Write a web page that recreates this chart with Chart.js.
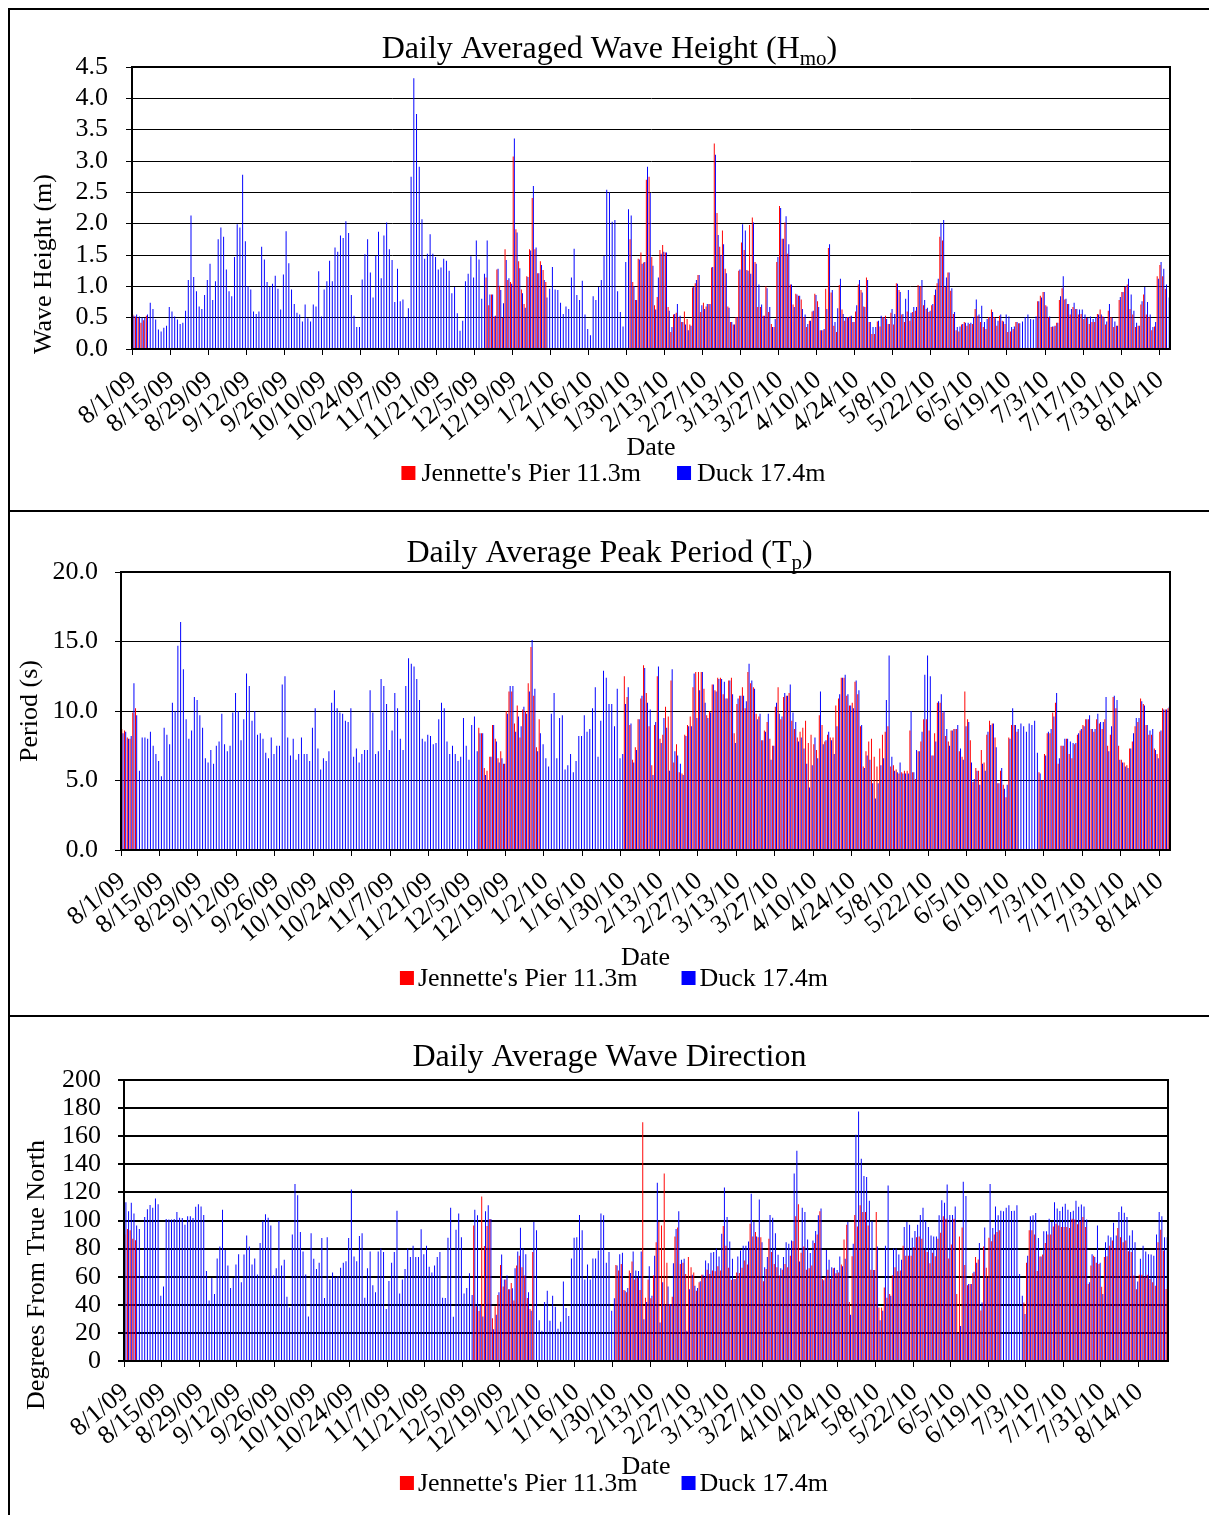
<!DOCTYPE html>
<html>
<head>
<meta charset="utf-8">
<script src="https://cdn.jsdelivr.net/npm/chart.js@4.4.1/dist/chart.umd.min.js"></script>
<style>
  html, body { margin: 0; padding: 0; background: #fff; }
  #frame { position: absolute; left: 8px; top: 8px; width: 1212px; border-left: 2px solid #000; }
  .panel { border-top: 2px solid #000; }
  canvas { display: block; }
</style>
</head>
<body>
<div id="frame">
  <div class="panel"><canvas id="heightChart" width="1199" height="500"></canvas></div>
  <div class="panel"><canvas id="periodChart" width="1199" height="503"></canvas></div>
  <div class="panel"><canvas id="directionChart" width="1199" height="498"></canvas></div>
</div>
<script>
// Biweekly date labels shown on every x axis
const tickLabels = ['8/1/09','8/15/09','8/29/09','9/12/09','9/26/09','10/10/09','10/24/09','11/7/09',
  '11/21/09','12/5/09','12/19/09','1/2/10','1/16/10','1/30/10','2/13/10','2/27/10','3/13/10','3/27/10',
  '4/10/10','4/24/10','5/8/10','5/22/10','6/5/10','6/19/10','7/3/10','7/17/10','7/31/10','8/14/10'];

const seriesNames = ["Jennette's Pier 11.3m", 'Duck 17.4m'];

// Daily averaged significant wave height Hmo (m)
const heightJP = [
0.55,0.52,0.50,0.42,0.46,0.53,null,null,null,null,
null,null,null,null,null,null,null,null,null,null,
null,null,null,null,null,null,null,null,null,null,
null,null,null,null,null,null,null,null,null,null,
null,null,null,null,null,null,null,null,null,null,
null,null,null,null,null,null,null,null,null,null,
null,null,null,null,null,null,null,null,null,null,
null,null,null,null,null,null,null,null,null,null,
null,null,null,null,null,null,null,null,null,null,
null,null,null,null,null,null,null,null,null,null,
null,null,null,null,null,null,null,null,null,null,
null,null,null,null,null,null,null,null,null,null,
null,null,null,null,null,null,null,null,null,null,
1.14,0.70,0.87,0.52,1.27,1.01,0.50,1.59,1.10,1.07,
3.07,1.91,1.40,0.95,0.72,1.16,1.59,2.41,1.59,1.21,
1.40,1.26,1.07,null,null,null,null,null,null,null,
null,null,null,null,null,null,null,null,null,null,
null,null,null,null,null,null,null,null,null,null,
null,null,null,1.75,1.07,0.78,1.44,1.54,1.38,2.70,
2.75,1.47,0.70,0.83,1.58,1.66,1.54,0.67,0.27,0.55,
0.58,0.51,0.43,0.60,0.48,0.39,0.98,1.05,1.18,0.59,
0.74,0.68,0.72,1.30,3.28,2.17,1.63,1.89,1.28,0.68,
0.43,0.39,0.51,1.25,1.70,1.58,1.26,1.98,2.10,1.39,
0.67,0.67,0.53,1.00,0.59,0.40,0.35,1.39,2.28,1.76,
2.02,1.52,1.03,0.71,0.88,0.85,0.79,0.51,0.35,0.45,
0.60,0.88,0.76,0.30,0.30,0.96,1.61,0.90,0.37,0.27,
1.02,0.63,0.45,0.51,0.52,0.43,0.60,1.03,0.94,0.68,
1.14,0.43,0.24,0.24,0.44,0.36,0.51,0.53,0.40,0.58,
0.39,1.05,0.94,0.55,0.43,0.60,0.45,0.59,0.61,1.02,
1.00,0.70,0.64,0.59,0.70,0.86,1.05,1.79,1.73,0.99,
1.22,0.93,0.56,0.30,0.28,0.39,0.43,0.37,0.40,0.40,
0.64,0.53,0.43,0.35,0.32,0.51,0.63,0.51,0.37,0.53,
0.45,0.40,0.27,0.28,0.32,0.43,0.41,null,null,null,
null,null,null,0.76,0.85,0.91,0.70,0.51,0.35,0.36,
0.42,0.78,0.97,0.79,0.72,0.55,0.67,0.64,0.55,0.56,
0.48,0.50,0.40,0.43,0.43,0.56,0.63,0.52,0.39,0.61,
0.51,0.35,0.37,0.78,0.91,0.99,1.03,0.64,0.55,0.35,
0.37,0.71,0.87,0.55,0.51,0.30,0.36,1.16,1.34,1.16,
0.96,null
];
const heightDuck = [
0.53,0.55,0.52,0.50,0.50,0.55,0.74,0.64,0.47,0.31,
0.28,0.34,0.37,0.67,0.60,0.52,0.47,0.40,0.42,0.61,
1.10,2.13,1.15,0.92,0.68,0.64,0.86,1.10,1.36,0.78,
1.08,1.75,1.94,1.79,1.27,0.92,0.84,1.47,1.99,1.94,
2.78,1.72,1.00,0.95,0.60,0.56,0.60,1.63,1.43,1.07,
0.99,1.04,1.17,0.96,0.63,1.19,1.88,1.37,0.95,0.72,
0.58,0.55,0.44,0.71,0.49,0.44,0.71,0.68,1.24,0.52,
0.95,1.08,1.41,1.08,1.62,1.55,1.81,1.77,2.04,1.85,
0.86,0.53,0.35,0.35,1.11,1.51,1.75,1.22,0.82,1.49,
1.87,1.13,1.81,2.02,1.59,1.42,0.75,1.28,0.76,0.79,
0.51,0.65,2.75,4.32,3.75,2.91,2.07,1.44,1.52,1.83,
1.52,1.47,1.27,1.30,1.44,1.41,1.25,0.89,0.99,0.57,
0.29,0.45,1.08,1.20,1.48,1.14,1.73,1.43,0.80,1.20,
1.73,0.87,0.87,0.53,1.28,0.94,0.73,1.42,1.13,1.04,
3.36,1.86,1.29,0.89,0.66,1.15,1.57,2.60,1.62,1.21,
1.34,1.10,0.82,0.96,1.31,0.95,0.94,0.74,0.56,0.68,
0.64,1.14,1.60,0.86,0.78,1.09,0.55,0.32,0.22,0.84,
0.78,0.99,1.10,1.49,2.54,2.50,2.03,2.06,0.92,0.59,
0.36,1.39,2.23,2.13,1.00,0.78,1.43,1.36,1.39,2.91,
2.49,1.33,0.63,1.14,1.52,1.55,1.54,0.61,0.35,0.56,
0.72,0.53,0.43,0.39,0.30,0.37,0.99,1.10,1.18,0.70,
0.64,0.72,0.72,1.31,3.10,1.82,1.50,1.67,1.21,0.66,
0.43,0.39,0.51,1.27,1.99,1.89,1.25,1.20,2.02,1.36,
1.03,0.71,0.53,0.97,0.67,0.35,0.48,1.47,2.25,1.76,
2.12,1.67,1.03,0.67,0.87,0.85,0.64,0.55,0.40,0.45,
0.61,0.86,0.67,0.30,0.32,0.64,1.67,0.94,0.43,0.65,
1.12,0.56,0.51,0.51,0.53,0.43,0.70,1.10,0.90,0.67,
1.10,0.43,0.35,0.35,0.45,0.53,0.51,0.48,0.40,0.64,
0.56,1.04,0.91,0.56,0.80,0.94,0.58,0.67,0.67,1.00,
1.10,0.78,0.66,0.61,0.72,0.95,1.12,2.01,2.06,1.14,
1.22,0.97,0.59,0.35,0.36,0.40,0.42,0.42,0.42,0.51,
0.79,0.55,0.69,0.43,0.48,0.51,0.59,0.49,0.45,0.55,
0.44,0.55,0.52,0.35,0.36,0.43,0.41,0.44,0.51,0.55,
0.48,0.47,0.52,0.76,0.82,0.91,0.68,0.52,0.36,0.37,
0.42,0.84,1.16,0.80,0.72,0.64,0.74,0.64,0.63,0.63,
0.55,0.50,0.52,0.48,0.51,0.55,0.55,0.51,0.44,0.72,
0.50,0.44,0.37,0.83,0.91,1.00,1.12,0.87,0.61,0.42,
0.37,0.76,0.99,0.75,0.55,0.35,0.43,1.12,1.39,1.28,
1.03,0.82
];

// Daily average peak period Tp (s)
const periodJP = [
8.7,8.6,8.1,8.0,9.9,10.2,null,null,null,null,
null,null,null,null,null,null,null,null,null,null,
null,null,null,null,null,null,null,null,null,null,
null,null,null,null,null,null,null,null,null,null,
null,null,null,null,null,null,null,null,null,null,
null,null,null,null,null,null,null,null,null,null,
null,null,null,null,null,null,null,null,null,null,
null,null,null,null,null,null,null,null,null,null,
null,null,null,null,null,null,null,null,null,null,
null,null,null,null,null,null,null,null,null,null,
null,null,null,null,null,null,null,null,null,null,
null,null,null,null,null,null,null,null,null,null,
null,null,null,null,null,null,null,null,null,null,
8.8,8.4,5.9,5.7,6.7,9.0,8.0,6.6,7.1,6.2,
10.0,11.4,11.4,9.1,10.4,8.1,10.1,10.0,12.0,14.6,
11.1,7.4,9.4,null,null,null,null,null,null,null,
null,null,null,null,null,null,null,null,null,null,
null,null,null,null,null,null,null,null,null,null,
null,null,null,12.5,11.0,9.0,6.5,7.4,9.4,10.9,
13.3,11.3,8.9,6.1,9.0,12.5,8.0,8.3,10.3,9.6,
12.2,6.3,7.6,5.6,5.5,8.3,9.0,9.6,11.7,12.8,
12.8,12.8,11.6,9.7,10.0,11.9,11.5,12.4,12.4,11.2,
10.9,12.2,12.4,8.4,10.5,11.1,11.7,10.2,12.8,12.0,
11.7,9.8,9.6,7.9,8.6,9.2,8.0,7.5,10.3,11.7,
9.4,11.0,11.1,11.3,9.3,8.7,8.1,8.5,8.8,9.3,
7.7,8.3,7.6,7.2,9.7,9.0,7.8,8.3,8.1,8.1,
10.4,10.9,12.4,12.4,11.1,10.4,10.6,12.1,11.2,8.9,
6.0,7.1,7.8,8.0,6.7,6.0,7.3,8.3,8.5,8.9,
6.0,6.1,5.8,5.5,5.6,5.7,5.7,8.6,5.6,5.1,
7.1,7.8,9.4,9.4,8.6,6.8,8.4,10.6,10.6,9.9,
8.2,7.8,8.6,8.7,8.7,7.1,6.7,11.4,9.4,7.9,
4.9,5.9,5.7,7.2,6.3,8.3,9.3,9.1,8.1,4.8,
5.7,4.7,3.8,8.1,9.0,9.0,8.5,null,null,null,
null,null,null,null,5.6,5.0,6.9,8.4,8.4,9.9,
10.6,6.2,7.5,7.5,8.0,6.9,6.6,7.6,8.3,8.6,
9.0,9.4,9.4,8.7,8.5,9.4,9.1,8.7,9.4,7.5,
8.3,11.0,10.2,7.5,6.5,6.3,6.1,7.3,7.8,8.9,
9.2,10.9,10.5,9.0,8.3,8.3,7.3,6.9,8.5,10.2,
10.1,10.2
];
const periodDuck = [
8.4,8.5,8.0,8.2,12.0,9.7,5.7,8.1,8.1,8.0,
8.5,7.5,6.9,6.4,5.3,8.8,8.3,7.6,10.6,10.0,
14.7,16.4,13.0,9.4,8.0,8.6,11.0,10.8,9.7,8.8,
6.6,6.3,7.2,6.2,7.5,7.8,9.8,7.6,7.1,7.5,
9.9,11.3,10.0,7.9,9.4,12.7,11.8,9.3,10.0,8.3,
8.4,8.0,7.0,6.6,8.1,6.9,7.5,7.5,11.9,12.5,
8.1,6.8,8.0,6.5,6.9,8.1,6.9,6.9,6.4,8.8,
10.2,7.3,5.8,6.6,6.4,7.1,10.6,11.5,10.2,9.9,
9.8,9.3,9.2,10.2,6.7,7.3,6.3,6.9,7.2,7.2,
11.5,9.9,6.9,7.1,12.3,11.8,10.5,7.2,8.6,11.3,
10.2,8.0,7.2,11.8,13.8,13.4,13.2,12.3,10.8,8.0,
7.8,8.3,8.2,7.6,7.7,9.4,10.6,10.2,7.8,6.9,
7.5,6.9,6.4,6.7,9.5,7.5,6.5,9.0,9.6,7.1,
8.4,8.4,5.4,5.0,6.7,9.0,7.8,6.3,6.6,6.2,
9.8,11.8,11.8,8.5,9.6,8.9,10.3,9.8,11.4,15.1,
11.6,7.1,8.4,7.6,6.6,6.0,9.8,11.3,6.6,9.5,
9.7,5.8,6.1,6.9,5.6,6.4,8.2,8.2,9.7,8.5,
8.7,10.2,11.7,6.7,9.3,12.9,12.4,10.5,10.5,8.9,
11.6,6.6,6.9,10.5,11.7,9.1,6.3,7.2,9.4,11.1,
13.1,10.6,10.1,5.4,9.2,13.2,7.7,9.5,8.8,5.7,
13.0,7.1,6.8,6.2,5.4,8.2,8.9,8.9,12.7,9.5,
11.5,12.8,10.6,9.5,9.9,11.9,11.4,12.3,12.3,12.1,
10.9,12.2,11.2,7.7,10.9,11.1,11.1,10.7,13.4,12.2,
11.6,9.4,9.8,7.9,8.5,9.8,6.5,7.5,10.6,9.8,
9.6,11.3,11.1,11.9,9.9,9.2,7.8,8.1,7.3,6.2,
4.5,6.1,8.1,6.6,11.4,7.6,7.9,8.5,7.9,6.9,
8.9,11.2,12.4,12.6,11.2,10.4,10.2,12.2,11.5,9.0,
5.9,6.8,6.5,4.8,3.7,4.8,6.1,6.6,10.8,14.0,
6.7,5.7,5.6,6.3,5.5,5.5,5.5,10.0,5.6,7.2,
7.1,8.5,12.6,14.0,12.5,6.8,7.8,10.7,11.2,10.0,
8.7,7.5,8.6,8.7,9.0,7.3,6.5,8.9,9.2,6.3,
5.1,5.7,4.7,6.2,5.7,8.5,9.0,9.1,7.4,4.8,
5.9,4.4,4.7,8.0,10.2,9.0,8.7,9.1,8.9,8.5,
9.1,9.0,9.3,7.0,5.5,5.0,6.8,8.5,8.7,9.6,
11.3,6.6,7.5,8.0,8.0,7.8,7.7,7.7,8.4,8.7,
8.9,9.4,9.7,8.7,8.7,9.8,9.2,9.2,11.0,7.1,
8.9,11.1,10.8,6.5,6.3,6.0,5.9,7.3,8.4,9.5,
9.5,10.7,10.4,9.0,8.6,8.7,7.2,6.6,8.6,10.1,
10.1,10.3
];

// Daily average wave direction (degrees from true north)
const directionJP = [
90,94,93,87,86,null,null,null,null,null,
null,null,null,null,null,null,null,null,null,null,
null,null,null,null,null,null,null,null,null,null,
null,null,null,null,null,null,null,null,null,null,
null,null,null,null,null,null,null,null,null,null,
null,null,null,null,null,null,null,null,null,null,
null,null,null,null,null,null,null,null,null,null,
null,null,null,null,null,null,null,null,null,null,
null,null,null,null,null,null,null,null,null,null,
null,null,null,null,null,null,null,null,null,null,
null,null,null,null,null,null,null,null,null,null,
null,null,null,null,null,null,null,null,null,null,
null,null,null,null,null,null,null,null,null,null,
96.5,39,35.5,117,81.8,96,101,30.5,39,47,
68.4,53,58,51,55.5,43,68,75,66.7,60.8,
44.8,37,77.5,null,null,null,null,null,null,null,
null,null,null,null,null,null,null,null,null,null,
null,null,null,null,null,null,null,null,null,null,
null,null,null,68.4,64.4,69,50.5,49,64.4,70.8,
58,59,50.5,170,45,58,44.6,60.8,84.6,99,
96.5,133.5,70,40.5,45.8,88.7,95,69,70,62,
74,66.7,63,50,56,61.3,59.6,65,62,64.4,
63.9,67.5,64.4,96,82,66.3,57.7,58.4,63,62.7,
66.3,71.5,68.7,97.7,88.7,91.8,88,88,56.7,65.5,
87,77.5,69,66.7,60.8,65,69,66.7,75,85.3,
103,111.5,77,81.5,65,66,68,84,90,106.5,
58.4,60,65,58.4,66,62.5,63,68.7,86.5,97,
42,74.6,104,95.8,110.8,106,106,96.5,65,64.8,
106,38,38,52.4,45,47.7,61,66.7,63.9,64.4,
82,75,75,75,81,88,88.7,87,79,77.5,
69.6,77,74.6,87,91.3,103,101.3,73,83,101.3,
47.7,88.7,95,68.4,54,54.8,62.5,74,72.2,36,
81.5,66.3,87.7,85.3,90,91.8,93,null,null,null,
null,null,null,null,null,41.7,70,93,93,90,
64,74.4,75.8,84,90,90,95.8,97.7,96.5,95.3,
95.3,95.3,94.6,101.3,100.8,97.3,99.4,102.5,95.3,54.8,
68,75,70,69,52.9,74,74.6,82,85.8,80,
94.6,88,84.6,85.8,78.2,77.5,60.8,51,61.3,61.3,
60,61.3,58.4,56,53.6,84.6,93.4,78.7,51.3
];
const directionDuck = [
113,106.5,112.7,105,96.5,94,59,102.5,108,111,
109,115.6,111.5,46.5,53,101,100.8,100.8,101,106,
102,101.8,97,103,103,101.8,109.7,111.5,110,104,
64,43,59,47.7,73,81.5,107.7,79,68,52,
59,68.7,76,56,75.8,89.4,81.5,68.7,73,61.5,
84,99.6,104.4,102,96.5,60.8,66,99.6,68,72,
45.8,38,90,126,118,91.8,78,61.5,31.7,91,
72.7,65.5,70,87.5,44.8,88,58,63,59.6,60.3,
66.3,70,71,87.5,122,74.4,71,89,91,45,
66,78,54,48.9,78,80,77.5,37,57,70,
77.5,107,48,58,65.5,80,74,82,74,74,
93.7,76,82,67,63,68,74,77.5,45,44.8,
87.7,109,31.5,93.4,105,88,48,52,62.5,47,
107.7,103.7,40,31.7,106.5,110.8,101,22.6,33,49,
75.8,58,60.8,51,51.7,66,78,94.9,80,76,
48.9,35.8,99,93,29,21.5,42,50,28.6,46.5,
38.6,23,27.9,56.5,37.7,32,73,87.7,88,104,
93,58,68.7,58,73,73,78.7,105,103.7,70,
77.5,35.8,44.6,68,76,77,50,52,62.7,78,
64.4,64,78,29.8,42,67.5,46.5,75,126.8,27.4,
56,40,53,40.5,69.6,94,106.5,72,72.7,21.5,
51,61.3,53.6,52,56.7,61.3,71.5,69.6,77,77.5,
80,74.4,90.6,123.5,102.5,85,72.7,58.4,74.4,78.7,
82,82,85,119,99,88.7,115,84.6,66.7,74,
104,102,91,75.6,66,74,84.6,83.4,85.8,133.5,
149.7,70.8,109,106,86.5,76.8,85.8,92.5,103.7,108.5,
57.4,79,72,66.7,66.3,64.8,74.4,67.5,72.7,99,
32.9,83.4,161,177.6,144,131.6,131,114,99.4,64.8,
81.5,29,35.8,82,125,46.5,80,80,75.8,72,
95.3,99,97,87.7,92.5,97,104,109,99.6,95.3,
89.4,88.7,88.7,103.7,114.4,112.7,125.6,104,104,110,
20,25,127.5,117.5,54.8,54.8,63.6,70,84,41.7,
95,59,126,94.6,110,103.7,107,106.5,109,110.8,
106.8,107,110.8,62,46.5,33.4,75,103,103.7,105.4,
87.5,74.4,92.3,92.3,101.3,99,113,108.5,106.8,109.7,
112,107.7,106,107,114,109.7,111.3,110,100.8,56,
76,74,96.5,70,47.7,84.6,89.4,88,98.4,89.4,
106,110,105.6,102.5,89.4,93,84.6,56.5,72.7,82,
78,76,75.8,75,90,106,103,88,88
];

// One category per day, starting 8/1/09
function dayLabels(count) {
  const out = [];
  const d = new Date(2009, 7, 1);
  for (let i = 0; i < count; i++) {
    out.push((d.getMonth() + 1) + '/' + d.getDate() + '/' + String(d.getFullYear()).slice(2));
    d.setDate(d.getDate() + 1);
  }
  return out;
}

const serif = "'Liberation Serif', 'Times New Roman', serif";
Chart.defaults.font.family = serif;
Chart.defaults.font.size = 26;
Chart.defaults.color = '#000';

// Panel title (with subscript), rotated y-axis title, plot frame and legend
const panelText = {
  id: 'panelText',
  afterDraw(chart, args, opts) {
    const ctx = chart.ctx;
    const a = chart.chartArea;
    ctx.save();
    ctx.strokeStyle = '#000';
    ctx.lineWidth = 2;
    ctx.strokeRect(a.left, a.top, a.right - a.left, a.bottom - a.top);

    // title
    ctx.fillStyle = '#000';
    ctx.textAlign = 'left';
    ctx.textBaseline = 'alphabetic';
    let total = 0;
    const parts = opts.title.map(p => {
      ctx.font = (p.sub ? '21px ' : '32px ') + serif;
      const w = ctx.measureText(p.text).width;
      total += w;
      return { text: p.text, sub: p.sub, w };
    });
    let x = chart.width / 2 - total / 2;
    parts.forEach(p => {
      ctx.font = (p.sub ? '21px ' : '32px ') + serif;
      ctx.fillText(p.text, x, opts.titleBaseline + (p.sub ? 7 : 0));
      x += p.w;
    });

    // legend
    const lg = opts.legend;
    ctx.font = '26px ' + serif;
    ctx.textBaseline = 'middle';
    const items = chart.data.datasets.map(ds => ({
      text: ds.label, color: ds.backgroundColor, w: ctx.measureText(ds.label).width
    }));
    let totalW = 0;
    items.forEach((it, i) => { totalW += lg.box + lg.boxGap + it.w + (i ? lg.itemGap : 0); });
    let lx = lg.cx - totalW / 2;
    items.forEach((it, i) => {
      if (i) lx += lg.itemGap;
      ctx.fillStyle = it.color;
      ctx.fillRect(lx, lg.y - lg.box / 2, lg.box, lg.box);
      lx += lg.box + lg.boxGap;
      ctx.fillStyle = '#000';
      ctx.fillText(it.text, lx, lg.y + 1);
      lx += it.w;
    });

    // y-axis title
    ctx.translate(opts.yTitleX, opts.yTitleY);
    ctx.rotate(-Math.PI / 2);
    ctx.textAlign = 'center';
    ctx.textBaseline = 'middle';
    ctx.fillText(opts.yTitle, 0, 0);
    ctx.restore();
  }
};

function buildPanel(id, cfg) {
  const labels = dayLabels(cfg.duck.length);
  return new Chart(document.getElementById(id), {
    type: 'bar',
    data: {
      labels,
      datasets: [
        { label: seriesNames[0], data: cfg.jp, backgroundColor: '#ff0000', borderWidth: 0,
          barPercentage: 0.85, categoryPercentage: 0.85 },
        { label: seriesNames[1], data: cfg.duck, backgroundColor: '#0000ff', borderWidth: 0,
          barPercentage: 0.85, categoryPercentage: 0.85 }
      ]
    },
    options: {
      responsive: false,
      animation: false,
      devicePixelRatio: 1,
      layout: { padding: { top: cfg.top, right: 0, bottom: 0, left: 0 } },
      plugins: {
        legend: { display: false },
        tooltip: { enabled: false },
        title: { display: false },
        panelText: {
          title: cfg.title, titleBaseline: cfg.titleBaseline,
          yTitle: cfg.yTitle, yTitleX: cfg.yTitleX, yTitleY: cfg.yTitleY,
          legend: cfg.legend
        }
      },
      scales: {
        x: {
          grid: {
            drawOnChartArea: false, drawTicks: true, tickLength: 6, lineWidth: 1,
            color: c => (c.tick && c.tick.label) ? '#000' : 'rgba(0,0,0,0)'
          },
          border: { display: true, color: '#000', width: 2 },
          ticks: {
            autoSkip: false, minRotation: cfg.rot, maxRotation: cfg.rot, padding: 10, color: '#000',
            font: { size: 26 },
            callback: function (v) {
              const l = this.getLabelForValue(v);
              return tickLabels.includes(l) ? l : '';
            }
          },
          title: { display: true, text: 'Date', color: '#000', font: { size: 26 },
                   padding: { top: 0, bottom: cfg.datePad } },
          afterFit: s => { s.height = cfg.xHeight; }
        },
        y: {
          min: 0, max: cfg.max,
          ticks: { stepSize: cfg.step, autoSkip: false, padding: cfg.tickPad, color: '#000',
                   font: { size: 26 }, callback: v => v.toFixed(cfg.dec) },
          grid: { color: '#000', lineWidth: cfg.gridWidth, drawTicks: true, tickLength: 6 },
          border: { display: true, color: '#000', width: 2 },
          afterFit: s => { s.width = cfg.yWidth; }
        },
        yRight: {
          position: 'right', display: true,
          grid: { display: false }, border: { display: false }, ticks: { display: false },
          afterFit: s => { s.width = cfg.right; }
        }
      }
    },
    plugins: [panelText]
  });
}

buildPanel('heightChart', {
  jp: heightJP, duck: heightDuck, max: 4.5, step: 0.5, dec: 1,
  title: [{ text: 'Daily Averaged Wave Height (H' }, { text: 'mo', sub: true }, { text: ')' }],
  titleBaseline: 48, yTitle: 'Wave Height (m)', yTitleX: 34, yTitleY: 254,
  top: 57, right: 39, yWidth: 122, tickPad: 18, gridWidth: 1,
  xHeight: 161, datePad: 46.4, rot: 40,
  legend: { cx: 603.5, y: 463, box: 14, boxGap: 6, itemGap: 36 }
});

buildPanel('periodChart', {
  jp: periodJP, duck: periodDuck, max: 20, step: 5, dec: 1,
  title: [{ text: 'Daily Average Peak Period (T' }, { text: 'p', sub: true }, { text: ')' }],
  titleBaseline: 50, yTitle: 'Period (s)', yTitleX: 20, yTitleY: 199,
  top: 60, right: 39, yWidth: 111, tickPad: 17, gridWidth: 1,
  xHeight: 165, datePad: 41.4, rot: 40,
  legend: { cx: 604, y: 466, box: 14, boxGap: 4, itemGap: 44 }
});

buildPanel('directionChart', {
  jp: directionJP, duck: directionDuck, max: 200, step: 20, dec: 0,
  title: [{ text: 'Daily Average Wave Direction' }],
  titleBaseline: 49, yTitle: 'Degrees From True North', yTitleX: 27, yTitleY: 258,
  top: 63, right: 41, yWidth: 114, tickPad: 17, gridWidth: 2,
  xHeight: 154, datePad: 32.4, rot: 40,
  legend: { cx: 604, y: 466, box: 14, boxGap: 4, itemGap: 44 }
});
</script>
</body>
</html>
